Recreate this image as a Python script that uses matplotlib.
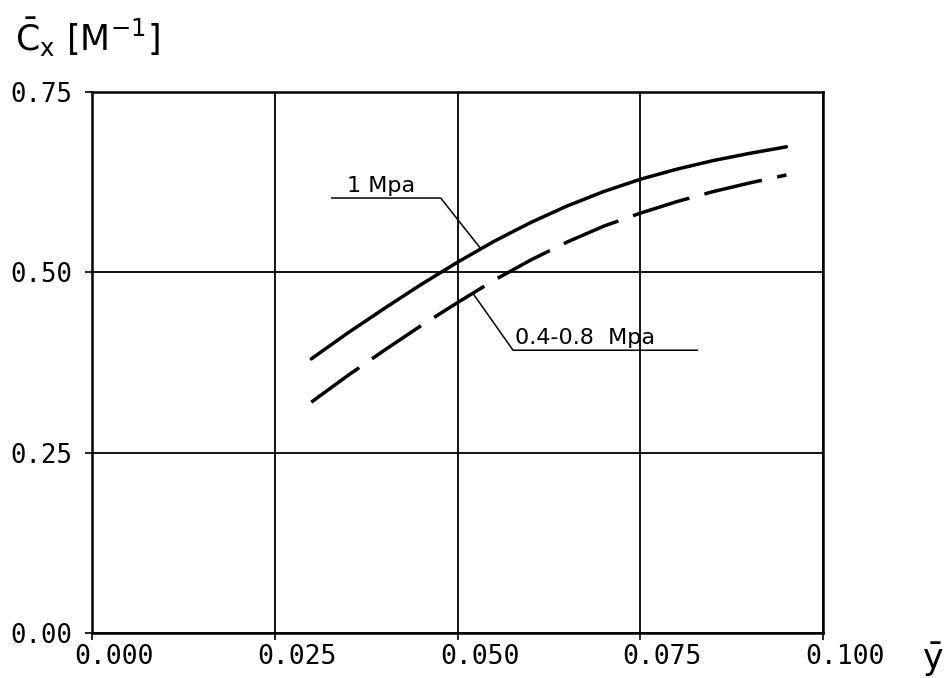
import numpy as np
import matplotlib
matplotlib.use("Agg")
import matplotlib.pyplot as plt
from matplotlib.transforms import ScaledTranslation

plt.rcParams["mathtext.fontset"] = "dejavusans"

# values
y_bar = [0.030, 0.035, 0.040, 0.045, 0.050, 0.055, 0.060,
         0.065, 0.070, 0.075, 0.080, 0.085, 0.090, 0.095]
cx_1mpa = [0.380, 0.416, 0.450, 0.483, 0.514, 0.543, 0.569,
           0.592, 0.612, 0.629, 0.643, 0.655, 0.665, 0.674]
cx_04_08mpa = [0.320, 0.357, 0.392, 0.426, 0.458, 0.489, 0.517,
               0.542, 0.564, 0.582, 0.598, 0.612, 0.624, 0.635]

xticks = [0.000, 0.025, 0.050, 0.075, 0.100]
xtick_labels = ["0.000", "0.025", "0.050", "0.075", "0.100"]
yticks = [0.00, 0.25, 0.50, 0.75]
ytick_labels = ["0.00", "0.25", "0.50", "0.75"]

fig = plt.figure(figsize=(9.44, 6.78), dpi=100)
ax = fig.add_axes([0.0975, 0.0664, 0.7743, 0.7979])

ax.plot(y_bar, cx_1mpa, color="black", lw=2.5, solid_capstyle="round")
ax.plot(y_bar, cx_04_08mpa, color="black", lw=2.5, dashes=(17, 4.5))

ax.set_xlim(0, 0.1)
ax.set_ylim(0, 0.75)
ax.set_xticks(xticks)
ax.set_xticklabels(xtick_labels, family="DejaVu Sans Mono", fontsize=19)
ax.set_yticks(yticks)
ax.set_yticklabels(ytick_labels, family="DejaVu Sans Mono", fontsize=18.5)
ax.tick_params(axis="both", direction="out", length=5, width=1.2, color="black")
ax.tick_params(axis="x", pad=3)
ax.tick_params(axis="y", pad=9)

# x tick labels sit a bit right of their ticks in the original
for lab in ax.get_xticklabels():
    lab.set_transform(lab.get_transform() + ScaledTranslation(0.22, 0, fig.dpi_scale_trans))

ax.grid(True, color="black", lw=1.3)
for s in ax.spines.values():
    s.set_linewidth(1.8)
    s.set_color("black")

# label "1 Mpa" with underline and leader
x_end = 0.0532
ax.plot([0.0328, 0.0477, x_end], [0.603, 0.603, np.interp(x_end, y_bar, cx_1mpa)],
        color="black", lw=1.1)
ax.text(0.0349, 0.611, "1 Mpa", fontsize=16, ha="left", va="baseline")

# label "0.4-0.8 Mpa" with underline and leader
x_end2 = 0.0521
ax.plot([0.0828, 0.0576, x_end2], [0.392, 0.392, np.interp(x_end2, y_bar, cx_04_08mpa)],
        color="black", lw=1.1)
ax.text(0.0578, 0.400, "0.4-0.8  Mpa", fontsize=16, ha="left", va="baseline")

# axis titles
fig.text(0.016, 0.925, r"$\bar{\mathrm{C}}_\mathrm{x}\ [\mathrm{M}^{-1}]$", fontsize=25,
         ha="left", va="baseline")
ax.text(1.15, -0.05, r"$\bar{\mathrm{y}}$", fontsize=25, transform=ax.transAxes,
        ha="center", va="center")

fig.savefig("out.png", dpi=100)
